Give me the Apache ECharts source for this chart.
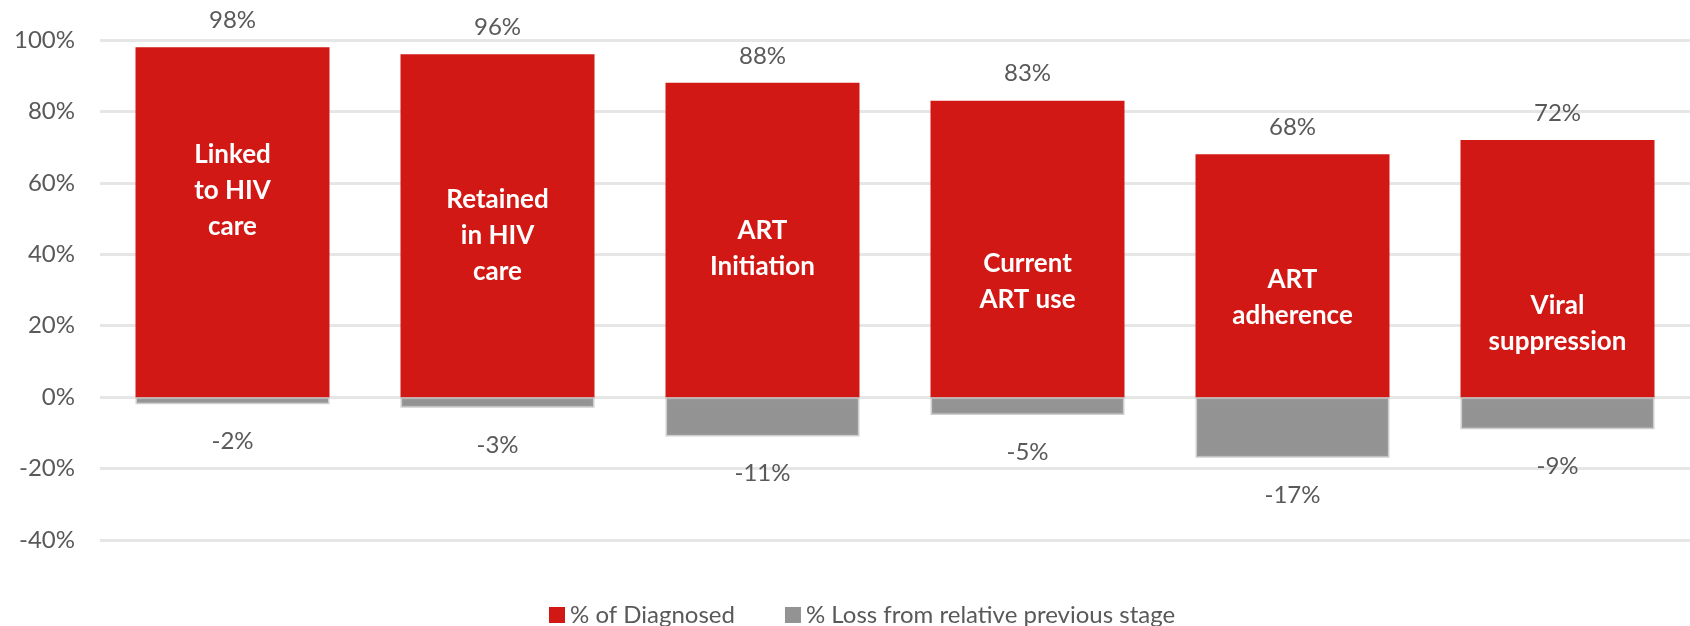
<!DOCTYPE html>
<html>
<head>
<meta charset="utf-8">
<script src="https://cdn.jsdelivr.net/npm/echarts@6/dist/echarts.min.js"></script>
<style>
    html, body { margin: 0; padding: 0; background: #fff; }
    #main { width: 1690px; height: 626px; }
</style>
</head>
<body>
<div id="main"></div>
<script>
// stages of the cascade
const stages = [
    'Linked\nto HIV\ncare',
    'Retained\nin HIV\ncare',
    'ART\nInitiation',
    'Current\nART use',
    'ART\nadherence',
    'Viral\nsuppression'
];
const pctDiagnosed = [98, 96, 88, 83, 68, 72];
const pctLoss = [-2, -3, -11, -5, -17, -9];
const seriesNames = ['% of Diagnosed', '% Loss from relative previous stage'];

// where the stage name sits inside each red bar (manual text boxes in the original)
const nameOffsets = [-32, 10, 9, 33, 22, 55];

const red = '#d21814';
const grey = '#939393';
const txt = '#595959';
const font = 'Lato';

let myChart = echarts.init(document.getElementById('main'));

let option = {
    animation: false,
    textStyle: { fontFamily: font },
    grid: {
        left: 100,
        top: 40,
        width: 1596,
        height: 500
    },
    legend: {
        left: 544,
        top: 598,
        icon: 'rect',
        itemWidth: 16,
        itemHeight: 16,
        itemGap: 50,
        textStyle: { fontSize: 24, color: txt, fontFamily: font },
        data: [
            { name: seriesNames[0], itemStyle: { borderWidth: 0 } },
            { name: seriesNames[1], itemStyle: { borderWidth: 0 } }
        ]
    },
    xAxis: {
        type: 'category',
        data: stages,
        axisLine: { show: false },
        axisTick: { show: false },
        axisLabel: { show: false }
    },
    yAxis: {
        type: 'value',
        min: -40,
        max: 100,
        interval: 20,
        axisLine: { show: false },
        axisTick: { show: false },
        axisLabel: {
            formatter: '{value}%',
            fontSize: 24,
            color: txt,
            margin: 25,
            fontFamily: font
        },
        splitLine: { lineStyle: { color: '#e6e6e6', width: 3 } }
    },
    series: [
        {
            name: seriesNames[0],
            type: 'bar',
            barWidth: 194,
            barGap: '-100%',
            itemStyle: { color: red },
            label: {
                show: true,
                position: 'inside',
                formatter: '{b}',
                color: '#fff',
                fontSize: 26,
                fontWeight: 'bold',
                lineHeight: 36,
                fontFamily: font
            },
            data: pctDiagnosed.map((v, i) => ({ value: v, label: { offset: [0, nameOffsets[i]] } }))
        },
        {
            name: seriesNames[1],
            type: 'bar',
            barWidth: 194,
            barGap: '-100%',
            itemStyle: {
                color: grey,
                borderColor: 'rgba(160,160,160,0.5)',
                borderWidth: 3
            },
            label: {
                show: true,
                position: 'bottom',
                distance: 25,
                formatter: '{c}%',
                color: txt,
                fontSize: 24,
                fontFamily: font
            },
            data: pctLoss
        },
        {
            // value labels above the red bars
            name: 'values',
            type: 'bar',
            barWidth: 194,
            barGap: '-100%',
            silent: true,
            itemStyle: { color: 'rgba(0,0,0,0)' },
            label: {
                show: true,
                position: 'top',
                distance: 15,
                formatter: '{c}%',
                color: txt,
                fontSize: 24,
                fontFamily: font
            },
            data: pctDiagnosed
        }
    ]
};

myChart.setOption(option);
</script>
</body>
</html>
